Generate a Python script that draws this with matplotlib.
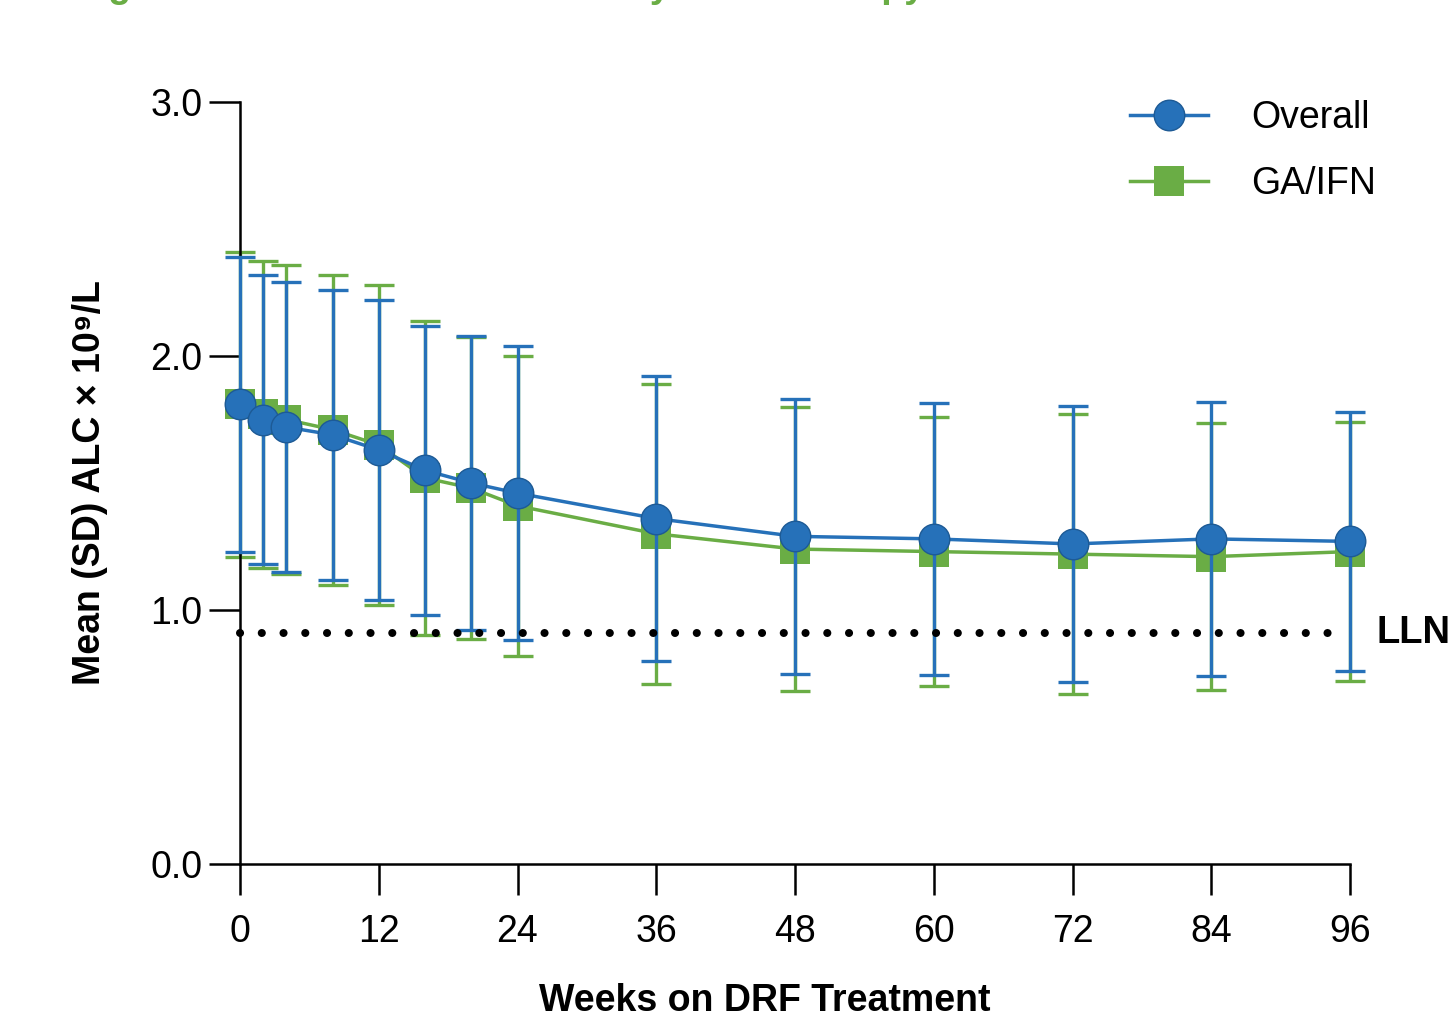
import matplotlib
matplotlib.use("Agg")
from matplotlib import pyplot as plt
import numpy as np

plt.rcParams['font.family'] = ['Liberation Sans', 'DejaVu Sans']

weeks = [0, 2, 4, 8, 12, 16, 20, 24, 36, 48, 60, 72, 84, 96]
xticks = [0, 12, 24, 36, 48, 60, 72, 84, 96]

overall_mean = [1.81, 1.75, 1.72, 1.69, 1.63, 1.55, 1.50, 1.46, 1.36, 1.29, 1.28, 1.26, 1.28, 1.27]
overall_sd = [0.58, 0.57, 0.57, 0.57, 0.59, 0.57, 0.58, 0.58, 0.56, 0.54, 0.535, 0.545, 0.54, 0.51]

gaifn_mean = [1.81, 1.77, 1.75, 1.71, 1.65, 1.52, 1.48, 1.41, 1.30, 1.24, 1.23, 1.22, 1.21, 1.23]
gaifn_sd = [0.60, 0.605, 0.61, 0.61, 0.63, 0.617, 0.595, 0.59, 0.59, 0.56, 0.53, 0.55, 0.525, 0.51]

lln = 0.91
lln_end = 95.0

BLUE = "#2671b9"
GREEN = "#6aad45"

fig = plt.figure(figsize=(14.51, 10.15), dpi=100)
ax = fig.add_axes([240/1451, 1-864/1015, 1110/1451, 762/1015])

# GA/IFN underneath
ax.errorbar(weeks, gaifn_mean, yerr=gaifn_sd, fmt='none', ecolor=GREEN, elinewidth=2.4,
            capsize=10.5, capthick=2.4, zorder=2, clip_on=False)
l_ga, = ax.plot(weeks, gaifn_mean, color=GREEN, lw=2.5, marker='s', markersize=21,
                markeredgewidth=0, markerfacecolor=GREEN, zorder=3, clip_on=False, label="GA/IFN")

# overall on top
ax.errorbar(weeks, overall_mean, yerr=overall_sd, fmt='none', ecolor=BLUE, elinewidth=2.4,
            capsize=10.5, capthick=2.4, zorder=4, clip_on=False)
l_ov, = ax.plot(weeks, overall_mean, color=BLUE, lw=2.5, marker='o', markersize=22,
                markeredgewidth=1, markeredgecolor="#1d5a95", markerfacecolor=BLUE,
                zorder=5, clip_on=False, label="Overall")

# lower limit of normal
ax.plot([0, lln_end], [lln, lln], color="black", lw=5.8, linestyle=(0, (0.01, 2.69)),
        dash_capstyle='round', zorder=4.5, clip_on=False)
ax.text(96 + 2.3, lln, "LLN", fontsize=27.5, fontweight='bold', va='center', ha='left')

ax.set_xlim(0, 96)
ax.set_ylim(0, 3)
ax.set_xticks(xticks)
ax.set_yticks([0, 1, 2, 3])
ax.set_yticklabels(["0.0", "1.0", "2.0", "3.0"])

for s in ["top", "right"]:
    ax.spines[s].set_visible(False)
for s in ["left", "bottom"]:
    ax.spines[s].set_linewidth(1.8)

ax.tick_params(axis='both', direction='out', length=22, width=1.8, labelsize=27)
ax.tick_params(axis='x', pad=14)
ax.tick_params(axis='y', pad=5)

ax.set_xlabel("Weeks on DRF Treatment", fontsize=27, fontweight='bold')
ax.xaxis.set_label_coords(0.473, -0.156)
ax.set_ylabel("Mean (SD) ALC × 10⁹/L", fontsize=27, fontweight='bold')
ax.yaxis.set_label_coords(-0.119, 0.50)

fig.legend(handles=[l_ov, l_ga], loc='upper left', bbox_to_anchor=(1130/1451, 1-100/1015),
           frameon=False, fontsize=27, handlelength=2.08, handletextpad=1.15,
           labelspacing=0.81, borderpad=0, borderaxespad=0)

# title cut off at top of the image
fig.text(75/1451, 1+3/1015, "Figure 2. Mean ALC Over Time by Prior Therapy", color=GREEN,
         fontsize=27, fontweight='bold', va='baseline', ha='left')

plt.savefig("out.png", dpi=100)
